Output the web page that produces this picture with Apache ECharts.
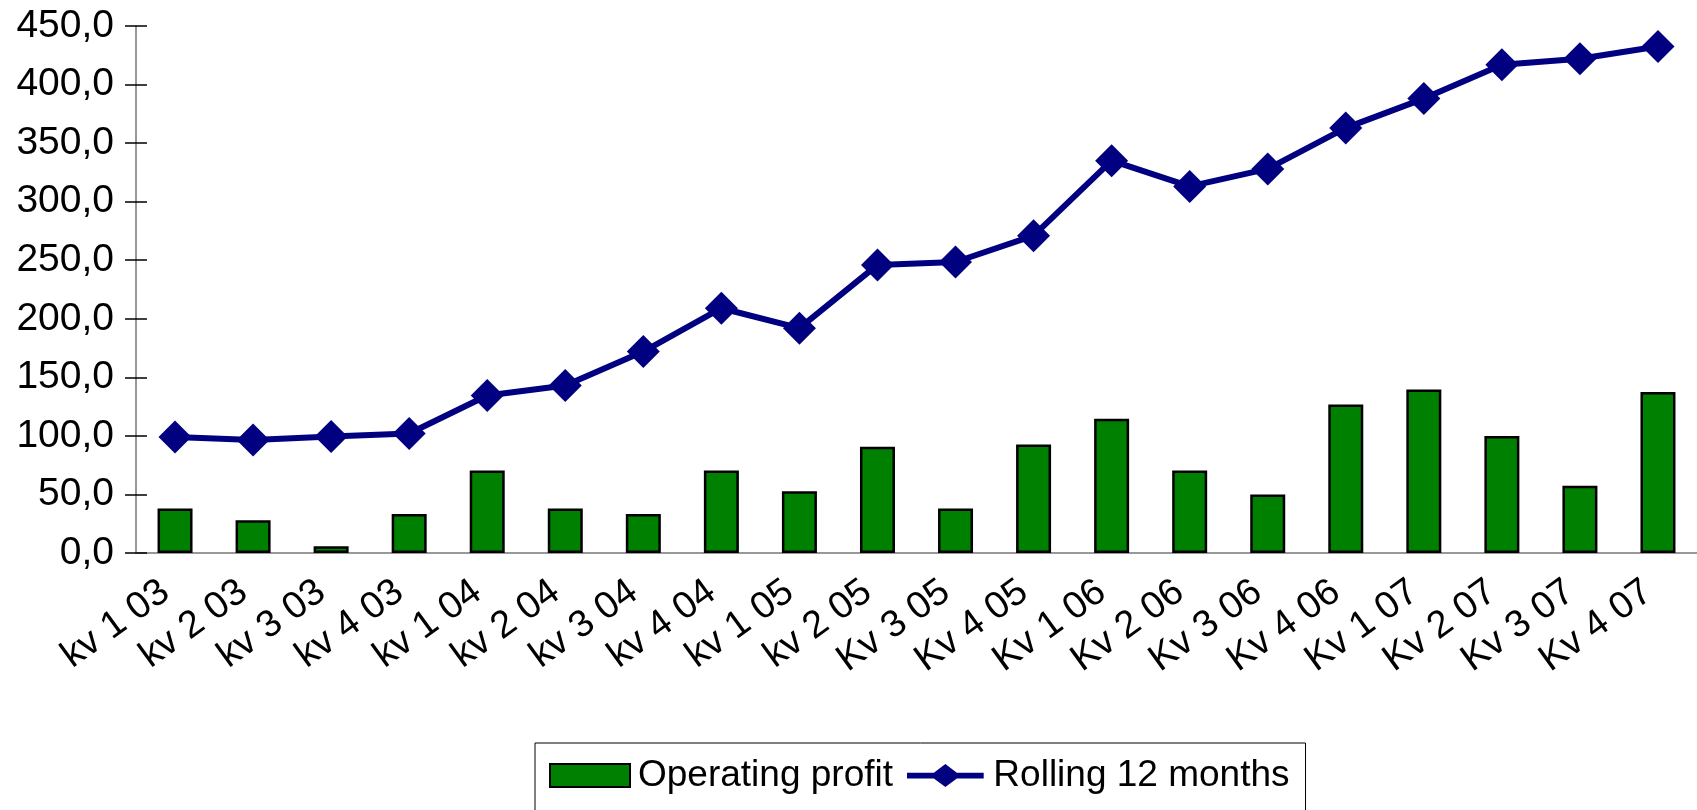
<!DOCTYPE html>
<html>
<head>
<meta charset="utf-8" />
<title>Operating profit</title>
<script src="https://cdn.jsdelivr.net/npm/echarts@6/dist/echarts.min.js"></script>
<style>
  html, body { margin: 0; padding: 0; background: #fff; }
  #chart { width: 1697px; height: 810px; }
</style>
</head>
<body>
<div id="chart"></div>
<script type="text/javascript">
// kvartal
var quarters = ['kv 1 03', 'kv 2 03', 'kv 3 03', 'kv 4 03', 'kv 1 04', 'kv 2 04', 'kv 3 04', 'kv 4 04',
  'kv 1 05', 'kv 2 05', 'Kv 3 05', 'Kv 4 05', 'Kv 1 06', 'Kv 2 06', 'Kv 3 06', 'Kv 4 06',
  'Kv 1 07', 'Kv 2 07', 'Kv 3 07', 'Kv 4 07'];
var operatingProfit = [38, 28, 5.7, 33.4, 70.4, 38, 33.4, 70.4, 52.8, 90.7,
  38, 92.6, 114.7, 70.4, 50, 126.7, 139.7, 100, 57.4, 137.5];
var rolling12 = [99, 96.5, 99.5, 102, 134.5, 143, 172, 209, 192, 246,
  248.5, 271, 335, 313, 328, 363, 388, 417, 422, 432.5];

var fontName = '"Liberation Sans", Arial, sans-serif';

// legend icon: thick line with a diamond in the middle
var lineIcon = 'path://M0,9L28,9L40,0L52,9L80,9L80,15L52,15L40,24L28,15L0,15Z';

var chart = echarts.init(document.getElementById('chart'));

function fmt(v) {
  return v.toFixed(1).replace('.', ',');
}

var option = {
  animation: false,
  backgroundColor: '#fff',
  grid: { left: 136, top: 26, right: -8, bottom: 257 },
  legend: {
    left: 535,
    top: 743,
    padding: [14, 16, 60, 14],
    borderColor: '#000',
    borderWidth: 1,
    itemWidth: 80,
    itemHeight: 23,
    itemGap: 14,
    textStyle: { fontFamily: fontName, fontSize: 37, color: '#000', padding: [0, 0, 0, 3] },
    data: [
      { name: 'Operating profit', icon: 'rect' },
      { name: 'Rolling 12 months', icon: lineIcon, itemStyle: { color: '#000080', borderWidth: 0 } }
    ]
  },
  xAxis: [
    {
      type: 'category',
      data: quarters,
      boundaryGap: true,
      axisLine: { lineStyle: { color: '#777', width: 1.5 } },
      axisTick: { interval: 0, length: 12, lineStyle: { color: '#000', width: 1.5 } },
      axisLabel: {
        interval: 0,
        rotate: 36,
        margin: 28,
        padding: [0, 12, 0, 0],
        fontFamily: fontName,
        fontSize: 38,
        color: '#000'
      }
    },
    {
      // inner half of the crossing ticks
      type: 'category',
      data: quarters,
      position: 'bottom',
      boundaryGap: true,
      axisLine: { show: false },
      axisTick: { interval: 0, inside: true, length: 12, lineStyle: { color: '#000', width: 1.5 } },
      axisLabel: { show: false }
    }
  ],
  yAxis: [
    {
      type: 'value',
      min: 0,
      max: 450,
      interval: 50,
      splitLine: { show: false },
      axisLine: { show: true, lineStyle: { color: '#777', width: 1.5 } },
      axisTick: { show: true, length: 11, lineStyle: { color: '#000', width: 1.5 } },
      axisLabel: {
        margin: 22,
        fontFamily: fontName,
        fontSize: 39,
        color: '#000',
        formatter: fmt
      }
    },
    {
      type: 'value',
      position: 'left',
      min: 0,
      max: 450,
      interval: 50,
      splitLine: { show: false },
      axisLine: { show: false },
      axisTick: { show: true, inside: true, length: 11, lineStyle: { color: '#000', width: 1.5 } },
      axisLabel: { show: false }
    }
  ],
  series: [
    {
      name: 'Operating profit',
      type: 'bar',
      data: operatingProfit,
      barWidth: 35,
      itemStyle: { color: '#008000', borderColor: '#000', borderWidth: 2.5 }
    },
    {
      name: 'Rolling 12 months',
      type: 'line',
      data: rolling12,
      symbol: 'diamond',
      symbolSize: 33,
      lineStyle: { color: '#000080', width: 6 },
      itemStyle: { color: '#000080' }
    }
  ]
};

chart.setOption(option);
</script>
</body>
</html>
